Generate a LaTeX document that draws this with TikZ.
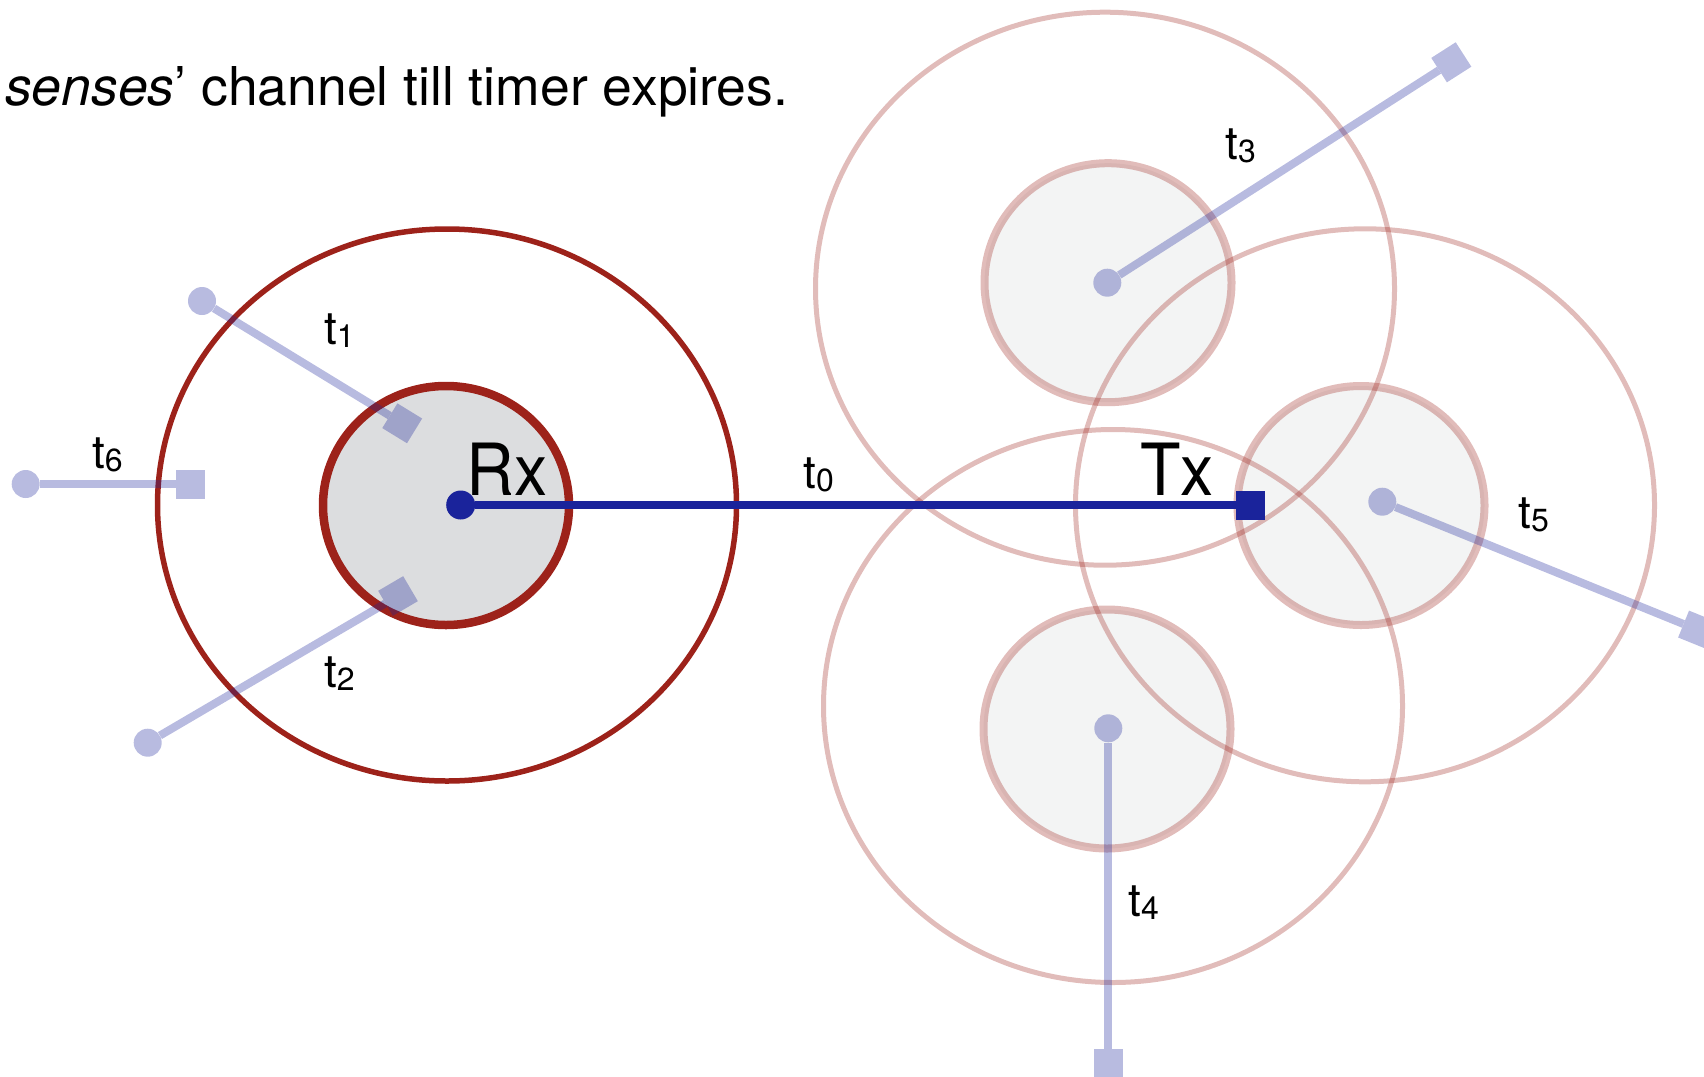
\documentclass[tikz,border=0pt]{standalone}
\usepackage{fontspec}
\usepackage{graphicx}
\setmainfont{TeX Gyre Heros}
\definecolor{darkred}{RGB}{157,34,26}
\definecolor{rxfill}{RGB}{220,221,223}
\definecolor{txfill}{RGB}{243,244,244}
\definecolor{darkblue}{RGB}{26,35,155}
\newcommand\tlab[1]{t\raisebox{-3pt}{\fontsize{32}{32}\selectfont #1}}
\tikzset{
  outerdark/.style={draw=darkred, line width=5.5pt},
  innerdark/.style={draw=darkred, line width=8.5pt, fill=rxfill},
  outerfaint/.style={draw=darkred, draw opacity=0.3, line width=5pt},
  innerfaint/.style={draw=darkred, draw opacity=0.3, line width=8pt},
  faintfill/.style={fill=txfill},
  lightline/.style={draw=darkblue, draw opacity=0.31, line width=8pt},
  lightdot/.style={circle, fill=darkblue, fill opacity=0.31, minimum size=28pt, inner sep=0pt},
  lightsq/.style={rectangle, fill=darkblue, fill opacity=0.31, minimum size=29pt, inner sep=0pt},
  rxdot/.style={circle, fill=darkblue, minimum size=29pt, inner sep=0pt},
  txsq/.style={rectangle, fill=darkblue, minimum size=29pt, inner sep=0pt},
  mainline/.style={draw=darkblue, line width=8.5pt},
  lab/.style={anchor=base west, inner sep=0pt, font=\fontsize{46}{46}\selectfont},
  biglab/.style={anchor=base west, inner sep=0pt, font=\fontsize{72}{72}\selectfont},
}
\begin{document}
\begin{tikzpicture}[x=1pt,y=-1pt]
\useasboundingbox (0,0) rectangle (1704,1076);
% caption
\node[anchor=base west, inner sep=0pt, font=\fontsize{53.5}{60}\selectfont] (cap) at (5,105) {\textit{senses}’ channel till timer expires.};
% right group: fills first
\fill[faintfill] (1108,282.7) ellipse [x radius=123.5pt, y radius=119.5pt];
\fill[faintfill] (1361,505.5) ellipse [x radius=123.5pt, y radius=119.5pt];
\fill[faintfill] (1107,729) ellipse [x radius=123.5pt, y radius=119.5pt];
% right group: strokes
\draw[outerfaint] (1105,288.7) ellipse [x radius=289.5pt, y radius=276.5pt];
\draw[outerfaint] (1365,505.3) ellipse [x radius=289.5pt, y radius=276.5pt];
\draw[outerfaint] (1113,706) ellipse [x radius=289.5pt, y radius=276.5pt];
\draw[innerfaint] (1108,282.7) ellipse [x radius=123.5pt, y radius=119.5pt];
\draw[innerfaint] (1361,505.5) ellipse [x radius=123.5pt, y radius=119.5pt];
\draw[innerfaint] (1107,729) ellipse [x radius=123.5pt, y radius=119.5pt];
% left group
\draw[outerdark] (447,505) ellipse [x radius=289.5pt, y radius=276pt];
\draw[innerdark] (446,505.5) ellipse [x radius=123pt, y radius=119.5pt];
% main link
\node[rxdot] (rx) at (460.7,505) {};
\node[txsq] (tx) at (1250.5,505) {};
\draw[mainline] (rx) -- (tx);
% light links
\node[lightdot] (d1) at (202,301) {};
\node[lightsq, rotate=-31.5] (s1) at (402.2,423.3) {};
\draw[lightline] (d1) -- (s1);
\node[lightdot] (d2) at (147.7,742.7) {};
\node[lightsq, rotate=30.4] (s2) at (398,596) {};
\draw[lightline] (d2) -- (s2);
\node[lightdot] (d6) at (25.7,484) {};
\node[lightsq] (s6) at (190.5,484) {};
\draw[lightline] (d6) -- (s6);
\node[lightdot] (d3) at (1107.3,282.7) {};
\node[lightsq, rotate=32.6] (s3) at (1451.3,62.3) {};
\draw[lightline] (d3) -- (s3);
\node[lightdot] (d5) at (1382.3,501.7) {};
\node[lightsq, rotate=-22.1] (s5) at (1697,629.5) {};
\draw[lightline] (d5) -- (s5);
\node[lightdot] (d4) at (1108.3,728.3) {};
\node[lightsq] (s4) at (1108.3,1063.5) {};
\draw[lightline] (d4) -- (s4);
% labels
\node[biglab] (rxl) at (466,495) {\scalebox{0.92}[1]{Rx}};
\node[biglab] (txl) at (1140,495) {\scalebox{0.92}[1]{Tx}};
\node[lab] (l0) at (803,488) {\tlab{0}};
\node[lab] (l1) at (324,344) {\tlab{1}};
\node[lab] (l2) at (324,687) {\tlab{2}};
\node[lab] (l3) at (1225,159) {\tlab{3}};
\node[lab] (l4) at (1128,916) {\tlab{4}};
\node[lab] (l5) at (1518,528) {\tlab{5}};
\node[lab] (l6) at (92,468) {\tlab{6}};
\end{tikzpicture}
\end{document}
